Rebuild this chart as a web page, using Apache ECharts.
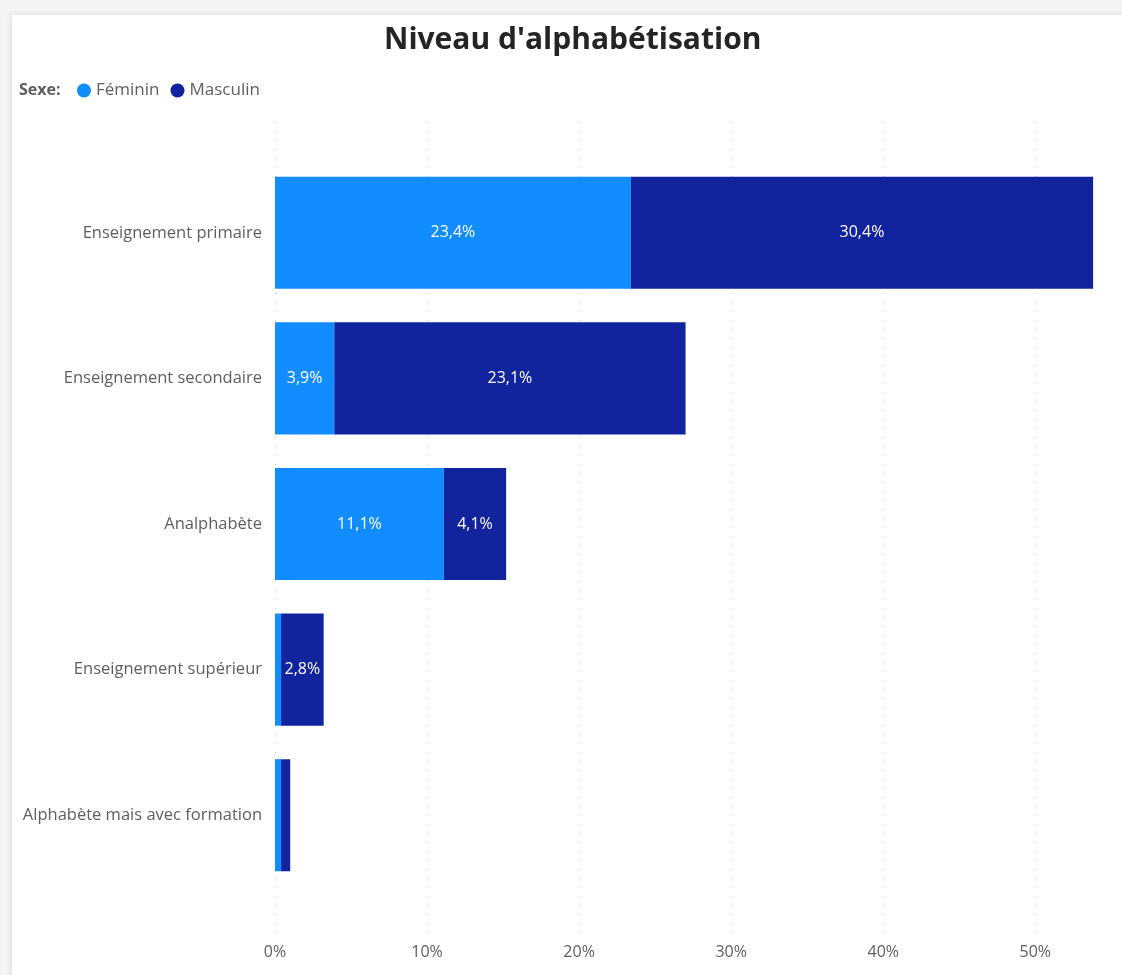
<!DOCTYPE html>
<html>
<head>
<meta charset="utf-8">
<script src="https://cdn.jsdelivr.net/npm/echarts@6/dist/echarts.min.js"></script>
<style>
    html, body { margin: 0; padding: 0; background: #f4f4f4; }
    #card { position: absolute; left: 12px; top: 15px; width: 1120px; height: 970px; background: #fff; box-shadow: 0 0 6px rgba(0,0,0,0.12); }
    #chart { position: absolute; left: 0; top: 0; width: 1122px; height: 975px; }
</style>
</head>
<body>
<div id="card"></div>
<div id="chart"></div>
<script>
// niveaux (haut -> bas)
var categories = ['Enseignement primaire', 'Enseignement secondaire', 'Analphabète', 'Enseignement supérieur', 'Alphabète mais avec formation'];
var feminin = [23.4, 3.9, 11.1, 0.4, 0.4];
var masculin = [30.4, 23.1, 4.1, 2.8, 0.6];
var tickValues = [0, 10, 20, 30, 40, 50];
var axisMax = 55.7;

var font = '"Segoe UI", "Open Sans", sans-serif';

function fmt(v) {
    return v.toFixed(1).replace('.', ',') + '%';
}

var chart1 = echarts.init(document.getElementById('chart'));

var labelStyle = {
    show: true,
    position: 'inside',
    color: '#fff',
    fontSize: 16,
    fontFamily: font,
    formatter: function (p) { return p.value >= 1 ? fmt(p.value) : ''; }
};

var option = {
    animation: false,
    title: [
        {
            text: "Niveau d'alphabétisation",
            left: 379,
            top: 20,
            textStyle: { fontSize: 30, fontWeight: 'bold', color: '#252423', fontFamily: font }
        },
        {
            text: 'Sexe:',
            left: 14,
            top: 77,
            textStyle: { fontSize: 16, fontWeight: 'bold', color: '#605E5C', fontFamily: font }
        }
    ],
    legend: {
        left: 72,
        top: 77,
        icon: 'circle',
        itemWidth: 14,
        itemHeight: 14,
        itemGap: 11,
        textStyle: { fontSize: 17, color: '#605E5C', fontFamily: font },
        data: ['Féminin', 'Masculin']
    },
    grid: [
        { left: 275, right: 0, top: 160, bottom: 87 },
        { left: 275, right: 0, top: 122, bottom: 40 }
    ],
    xAxis: [
        {
            type: 'value', gridIndex: 0, min: 0, max: axisMax, interval: 10,
            axisLabel: { show: false }, axisLine: { show: false }, axisTick: { show: false },
            splitLine: { show: false }
        },
        {
            type: 'value', gridIndex: 1, min: 0, max: axisMax, interval: 10,
            axisLine: { show: false }, axisTick: { show: false },
            axisLabel: {
                color: '#605E5C', fontSize: 16, fontFamily: font, margin: 9, showMaxLabel: false,
                formatter: function (v) { return tickValues.indexOf(v) >= 0 ? v + '%' : ''; }
            },
            splitLine: { show: true, showMaxLine: false, lineStyle: { color: '#c8c8c8', type: [1, 8], width: 1 } }
        }
    ],
    yAxis: [
        {
            type: 'category', gridIndex: 0, inverse: true, data: categories,
            axisLine: { show: false }, axisTick: { show: false },
            axisLabel: { color: '#605E5C', fontSize: 16.5, fontFamily: font, margin: 13 }
        },
        {
            type: 'category', gridIndex: 1, data: [''], show: false
        }
    ],
    series: [
        {
            name: 'Féminin', type: 'bar', stack: 'total',
            barCategoryGap: '23%',
            itemStyle: { color: '#118DFF' },
            label: labelStyle,
            data: feminin
        },
        {
            name: 'Masculin', type: 'bar', stack: 'total',
            barCategoryGap: '23%',
            itemStyle: { color: '#12239E' },
            label: labelStyle,
            data: masculin
        }
    ]
};

chart1.setOption(option);
</script>
</body>
</html>
